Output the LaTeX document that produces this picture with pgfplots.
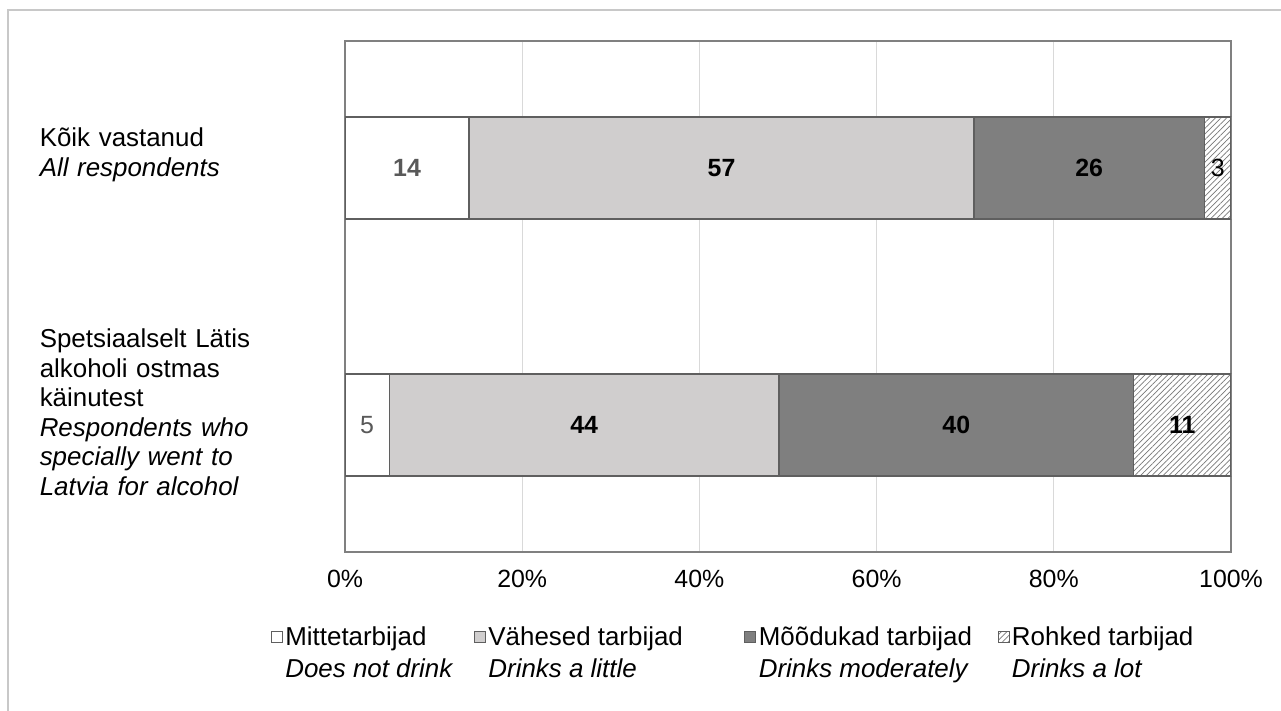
\documentclass[border=0pt]{standalone}
\usepackage{fontspec}
\setmainfont{Liberation Sans}
\usepackage{pgfplots}
\pgfplotsset{compat=1.18}
\usetikzlibrary{patterns.meta}
\definecolor{lightbar}{RGB}{208,206,206}
\definecolor{darkbar}{RGB}{127,127,127}
\definecolor{bordergray}{RGB}{95,95,95}
\definecolor{axisgray}{RGB}{128,128,128}
\definecolor{gridgray}{RGB}{217,217,217}
\definecolor{framegray}{RGB}{200,200,200}
\definecolor{hatchgray}{RGB}{120,120,120}
\definecolor{labgray}{RGB}{89,89,89}
\newcommand{\cfont}{\fontsize{25}{29.5}\selectfont}
\newcommand{\lfont}{\fontsize{26}{29.6}\selectfont}
\begin{document}
\begin{tikzpicture}
\path[use as bounding box] (0,0) rectangle (1281bp,711bp);
\draw[framegray, line width=1.5bp] (8bp,0bp) -- (8bp,701bp) -- (1281bp,701bp);
\begin{axis}[
  at={(345bp,159bp)}, anchor=south west,
  scale only axis, width=886bp, height=511bp,
  xbar stacked, bar width=0.397,
  xmin=0, xmax=100, ymin=-0.494, ymax=1.494,
  xtick={0,20,40,60,80,100},
  xticklabels={0\%,20\%,40\%,60\%,80\%,100\%},
  xmajorgrids, grid style={color=gridgray, line width=1bp},
  major tick length=0pt,
  ytick={0,1},
  yticklabels={{Spetsiaalselt Lätis\\alkoholi ostmas\\käinutest\\\textit{Respondents who}\\\textit{specially went to}\\\textit{Latvia for alcohol}},{Kõik vastanud\\\textit{All respondents}}},
  yticklabel style={text width=290bp, align=left, inner sep=0pt, anchor=east, xshift=-15bp, yshift=13bp, font=\lfont},
  xticklabel style={inner sep=0pt, anchor=north, yshift=-18bp, font=\cfont},
  tick label style={text=black},
  axis line style={draw=axisgray, line width=2bp},
  legend columns=4,
  legend cell align=left,
  legend style={draw=none, fill=none, font=\lfont, inner sep=0pt,
    at={(-0.0839,-0.1407)}, anchor=north west,
    nodes={inner sep=2.5bp},
    row sep=7bp,
    /tikz/column 2/.style={column sep=18bp},
    /tikz/column 4/.style={column sep=59bp},
    /tikz/column 6/.style={column sep=23bp}},
  legend image code/.code={\draw[#1, line width=1bp] (0bp,-5.5bp) rectangle (11bp,5.5bp);},
]
\addplot[fill=white, draw=bordergray, line width=1.5bp] coordinates {(14,1) (5,0)};
\addlegendentry{Mittetarbijad}
\addplot[fill=lightbar, draw=bordergray, line width=1.5bp] coordinates {(57,1) (44,0)};
\addlegendentry{Vähesed tarbijad}
\addplot[fill=darkbar, draw=bordergray, line width=1.5bp] coordinates {(26,1) (40,0)};
\addlegendentry{Mõõdukad tarbijad}
\addplot[fill=white, draw=bordergray, line width=1.5bp, postaction={pattern={Lines[angle=45, distance=4bp, line width=0.7bp]}, pattern color=hatchgray}] coordinates {(3,1) (11,0)};
\addlegendentry{Rohked tarbijad}
\addlegendimage{empty legend}
\addlegendentry{\textit{Does not drink}}
\addlegendimage{empty legend}
\addlegendentry{\textit{Drinks a little}}
\addlegendimage{empty legend}
\addlegendentry{\textit{Drinks moderately}}
\addlegendimage{empty legend}
\addlegendentry{\textit{Drinks a lot}}
\end{axis}
\begin{axis}[
  at={(345bp,159bp)}, anchor=south west,
  scale only axis, width=886bp, height=511bp,
  xmin=0, xmax=100, ymin=-0.494, ymax=1.494,
  hide axis,
  nodes near coords={\pgfplotspointmeta},
  point meta=explicit symbolic,
  every node near coord/.append style={anchor=center, font=\cfont},
]
\addplot[draw=none, mark=none, every node near coord/.append style={font=\cfont\bfseries, text=black}]
  coordinates {(42.5,1) [57] (84,1) [26] (27,0) [44] (69,0) [40] (94.5,0) [11]};
\addplot[draw=none, mark=none, every node near coord/.append style={font=\cfont\bfseries, text=labgray}]
  coordinates {(7,1) [14]};
\addplot[draw=none, mark=none, every node near coord/.append style={text=labgray}]
  coordinates {(2.5,0) [5]};
\addplot[draw=none, mark=none, every node near coord/.append style={text=black}]
  coordinates {(98.5,1) [3]};
\end{axis}
\end{tikzpicture}
\end{document}
